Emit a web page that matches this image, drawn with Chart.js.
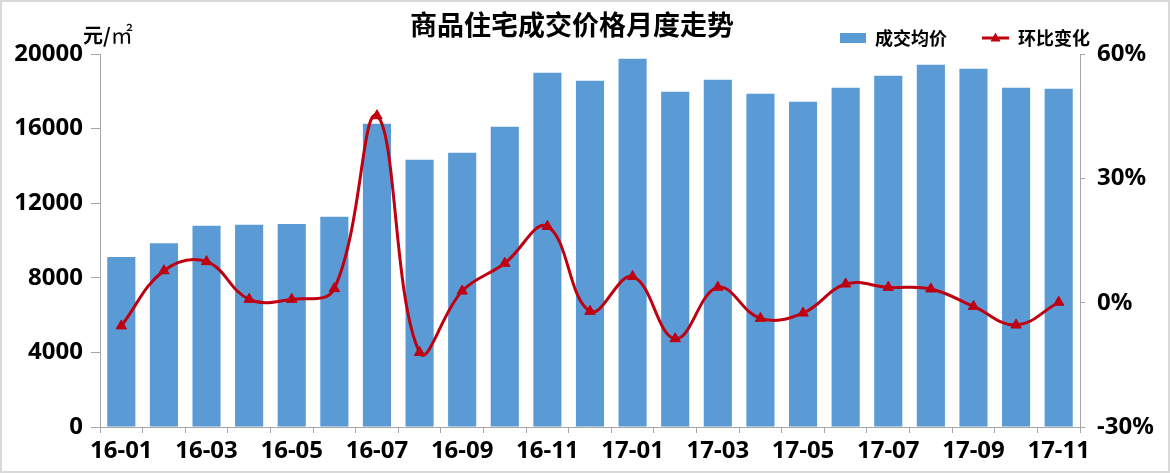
<!DOCTYPE html>
<html>
<head>
<meta charset="utf-8">
<script src="https://cdn.jsdelivr.net/npm/chart.js@4.4.1/dist/chart.umd.min.js"></script>
<style>
  html, body { margin: 0; padding: 0; background: #ffffff; }
  #wrap { position: relative; width: 1170px; height: 473px; overflow: hidden; }
  #c { position: absolute; left: 0; top: 0; }
  #title { position: absolute; left: 406px; top: 6px; width: 332px; text-align: center;
           font: bold 27px "Noto Sans CJK SC", sans-serif; color: #000; line-height: 36px; white-space: nowrap; }
  #unit { position: absolute; left: 83px; top: 17px; font: bold 20px "Noto Sans CJK SC", sans-serif; color: #000; line-height: 28px; white-space: nowrap; }
  #unit .sq { font: normal 22px "Noto Sans CJK SC", serif; }
  #frame { position: absolute; left: 0; top: 0; width: 1170px; height: 473px; box-sizing: border-box;
           border: 2px solid #d9d9d9; pointer-events: none; }
</style>
</head>
<body>
<div id="wrap">
  <canvas id="c" width="1170" height="473"></canvas>
  <div id="title">商品住宅成交价格月度走势</div>
  <div id="unit">元/<span class="sq">㎡</span></div>
  <div id="frame"></div>
</div>
<script>
// ---- data ----
const months = ['16-01','16-02','16-03','16-04','16-05','16-06','16-07','16-08','16-09','16-10','16-11','16-12',
                '17-01','17-02','17-03','17-04','17-05','17-06','17-07','17-08','17-09','17-10','17-11'];
const avgPrice = [9120, 9850, 10790, 10840, 10890, 11280, 16260, 14330, 14700, 16100, 19000, 18570,
                  19750, 17980, 18620, 17870, 17440, 18190, 18830, 19420, 19210, 18190, 18140];
const momChange = [-5.6, 7.7, 9.9, 0.8, 0.8, 3.4, 45.1, -12.0, 2.8, 9.5, 18.4, -2.1,
                   6.3, -8.7, 3.7, -3.8, -2.5, 4.5, 3.7, 3.3, -0.9, -5.4, 0.1];
const priceTicks = [0, 4000, 8000, 12000, 16000, 20000];
const pctTicks = [-30, 0, 30, 60];
const seriesNames = ['成交均价', '环比变化'];

// ---- styles ----
const barColor = '#5B9BD5';
const lineColor = '#BE0010';
const axisColor = '#a6a6a6';
const tickFont = { family: '"Noto Sans", "Noto Sans CJK SC", sans-serif', size: 24, weight: 'bold' };

function barIcon() {
  const c = document.createElement('canvas');
  c.width = 52; c.height = 14;
  const g = c.getContext('2d');
  g.fillStyle = barColor;
  g.fillRect(26, 2, 26, 10);
  return c;
}
function lineIcon() {
  const c = document.createElement('canvas');
  c.width = 52; c.height = 14;
  const g = c.getContext('2d');
  g.strokeStyle = lineColor; g.lineWidth = 3;
  g.beginPath(); g.moveTo(25, 7); g.lineTo(52, 7); g.stroke();
  g.fillStyle = lineColor;
  g.beginPath(); g.moveTo(38.5, 1.5); g.lineTo(43.5, 10.5); g.lineTo(33.5, 10.5); g.closePath(); g.fill();
  return c;
}
const icons = [barIcon(), lineIcon()];

// keep the legend's right end where the reference has it
const legendPlace = {
  id: 'legendPlace',
  afterLayout(chart) {
    if (chart.legend) { chart.legend.right = 1100; }
  }
};

new Chart(document.getElementById('c'), {
  data: {
    labels: months,
    datasets: [
      {
        type: 'bar', label: seriesNames[0], data: avgPrice, yAxisID: 'y',
        backgroundColor: barColor, borderWidth: 0,
        barPercentage: 0.66, categoryPercentage: 1.0, order: 2
      },
      {
        type: 'line', label: seriesNames[1], data: momChange, yAxisID: 'y1',
        borderColor: lineColor, backgroundColor: lineColor, borderWidth: 3,
        tension: 0.4, pointStyle: 'triangle', pointRadius: 6,
        pointBackgroundColor: lineColor, pointBorderColor: lineColor, pointBorderWidth: 1,
        fill: false, order: 1
      }
    ]
  },
  plugins: [legendPlace],
  options: {
    responsive: false,
    animation: false,
    layout: { padding: { top: 19, right: 0, left: 0, bottom: 0 } },
    plugins: {
      title: { display: false },
      tooltip: { enabled: false },
      legend: {
        display: true, position: 'top', align: 'end', maxHeight: 35,
        labels: {
          usePointStyle: true, pointStyleWidth: 52, padding: 10,
          color: '#000',
          font: { family: '"Noto Sans CJK SC", sans-serif', size: 18, weight: 'bold' },
          sort(a, b) { return a.datasetIndex - b.datasetIndex; },
          generateLabels(chart) {
            const items = Chart.defaults.plugins.legend.labels.generateLabels(chart);
            items.forEach(it => { it.pointStyle = icons[it.datasetIndex]; });
            return items;
          }
        }
      }
    },
    scales: {
      x: {
        grid: { display: true, drawOnChartArea: false, drawTicks: true, tickLength: 6, color: axisColor, offset: true },
        border: { display: true, color: axisColor, width: 1 },
        ticks: {
          autoSkip: false, maxRotation: 0, minRotation: 0, padding: 4, color: '#000', font: tickFont,
          callback(v, i) { return i % 2 === 0 ? months[i] : ''; }
        },
        afterFit(s) { s.height = 46; }
      },
      y: {
        position: 'left', min: 0, max: 20000,
        grid: { display: true, drawOnChartArea: false, drawTicks: true, tickLength: 9, color: axisColor },
        border: { display: true, color: axisColor, width: 1 },
        ticks: { padding: 8, color: '#000', font: tickFont, callback(v) { return String(v); } },
        afterBuildTicks(s) { s.ticks = priceTicks.map(v => ({ value: v })); },
        afterFit(s) { s.width = 100; }
      },
      y1: {
        position: 'right', min: -30, max: 60,
        grid: { display: true, drawOnChartArea: false, drawTicks: true, tickLength: 5, color: axisColor },
        border: { display: true, color: axisColor, width: 1 },
        ticks: { padding: 12, color: '#000', font: tickFont, callback(v) { return v + '%'; } },
        afterBuildTicks(s) { s.ticks = pctTicks.map(v => ({ value: v })); },
        afterFit(s) { s.width = 90; }
      }
    }
  }
});
</script>
</body>
</html>
